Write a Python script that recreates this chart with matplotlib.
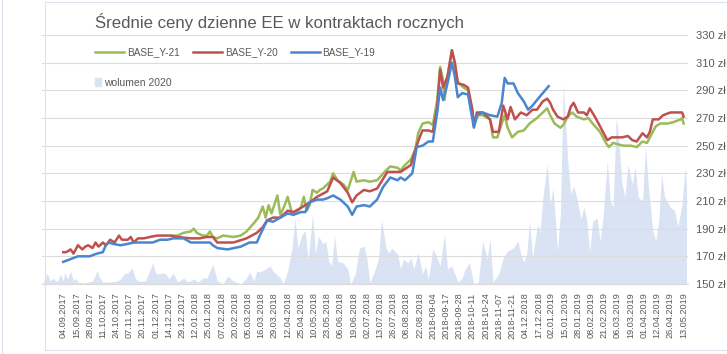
import matplotlib
matplotlib.use("Agg")
import matplotlib.pyplot as plt
from matplotlib.lines import Line2D
from matplotlib.patches import Patch

plt.rcParams['font.family'] = ['Liberation Sans', 'DejaVu Sans']

# numer dnia notowan (co 9 sesji podpis na osi)
date_labels = ['04.09.2017', '15.09.2017', '28.09.2017', '11.10.2017', '24.10.2017', '07.11.2017',
               '20.11.2017', '01.12.2017', '14.12.2017', '29.12.2017', '12.01.2018', '25.01.2018',
               '07.02.2018', '20.02.2018', '05.03.2018', '16.03.2018', '29.03.2018', '12.04.2018',
               '25.04.2018', '10.05.2018', '23.05.2018', '06.06.2018', '19.06.2018', '02.07.2018',
               '13.07.2018', '26.07.2018', '08.08.2018', '22.08.2018', '2018-09-04', '2018-09-17',
               '2018-09-28', '2018-10-11', '2018-10-24', '2018-11-07', '2018-11-21', '04.12.2018',
               '17.12.2018', '02.01.2019', '15.01.2019', '28.01.2019', '08.02.2019', '21.02.2019',
               '06.03.2019', '19.03.2019', '01.04.2019', '12.04.2019', '26.04.2019', '13.05.2019']

y21_day = [74, 78, 82, 87, 89, 91, 95, 98, 100, 102, 105, 109, 116, 121, 125, 130, 133, 136, 138, 140,
           142, 146, 148, 151, 153, 155, 156, 160, 162, 164, 166, 168, 170, 173, 175, 177, 182, 184, 187,
           191, 194, 198, 200, 205, 209, 214, 220, 223, 228, 230, 233, 237, 240, 242, 245, 249, 252, 255,
           257, 259, 260, 262, 265, 267, 269, 273, 276, 279, 280, 283, 286, 291, 293, 296, 299, 301, 303,
           306, 310, 314, 318, 323, 327, 330, 332, 335, 339, 341, 344, 347, 350, 355, 358, 361, 366, 370,
           372, 375, 378, 382, 387, 391, 395, 398, 400, 404, 407, 412, 416, 421, 422, 423]
y21_val = [185, 185, 187, 188, 190, 187, 185, 185, 188, 184, 183, 185, 184, 185, 188, 194, 198, 206, 198, 207,
           201, 214, 200, 207, 213, 205, 201, 203, 205, 213, 203, 207, 218, 216, 218, 219, 224, 230, 225,
           222, 218, 231, 224, 225, 224, 225, 232, 235, 234, 232, 236, 240, 247, 259, 266, 267, 265, 283,
           307, 297, 283, 300, 319, 310, 296, 292, 290, 274, 265, 272, 272, 269, 256, 256, 266, 272, 263,
           256, 260, 261, 266, 270, 274, 277, 272, 266, 263, 265, 271, 274, 271, 269, 270, 266, 260, 252,
           249, 252, 251, 250, 250, 249, 253, 252, 256, 264, 266, 266, 267, 269, 270, 266]

y20_day = [0, 2, 5, 7, 10, 13, 15, 17, 20, 22, 24, 27, 29, 32, 35, 38, 40, 44, 46, 48, 51, 55, 59, 64, 68,
           73, 78, 87, 93, 98, 102, 105, 109, 116, 125, 132, 136, 139, 143, 148, 153, 157, 162, 168, 173,
           180, 184, 189, 194, 197, 200, 205, 209, 214, 221, 225, 230, 237, 240, 243, 245, 249, 252, 255,
           257, 259, 262, 265, 267, 269, 273, 276, 279, 280, 282, 286, 291, 293, 297, 300, 303, 305, 308,
           312, 316, 320, 323, 327, 330, 332, 334, 337, 341, 344, 346, 348, 351, 355, 357, 359, 363, 366,
           368, 371, 374, 378, 381, 385, 388, 391, 395, 398, 400, 402, 406, 409, 414, 419, 422, 423]
y20_val = [173, 173, 175, 172, 178, 175, 177, 178, 176, 180, 177, 180, 178, 182, 180, 185, 182, 182, 184, 180,
           183, 183, 184, 185, 185, 185, 184, 183, 183, 184, 184, 180, 180, 180, 183, 187, 191, 196, 198,
           198, 203, 202, 205, 209, 213, 217, 227, 223, 216, 209, 214, 218, 217, 219, 231, 231, 231, 236,
           247, 256, 261, 261, 260, 278, 305, 292, 300, 319, 310, 295, 294, 292, 276, 264, 274, 274, 269,
           260, 260, 279, 269, 278, 269, 274, 272, 276, 276, 282, 284, 281, 276, 271, 269, 271, 278, 281,
           274, 274, 272, 277, 270, 264, 260, 254, 256, 256, 256, 257, 254, 253, 259, 256, 260, 269, 269,
           272, 274, 274, 274, 271]

y19_day = [0, 5, 10, 14, 18, 23, 27, 29, 31, 34, 39, 44, 48, 53, 57, 61, 66, 71, 75, 82, 87, 91, 95, 100,
           102, 105, 112, 121, 127, 132, 134, 139, 143, 148, 153, 157, 162, 165, 168, 173, 177, 180, 184,
           189, 194, 197, 200, 205, 209, 214, 218, 223, 228, 230, 233, 238, 241, 245, 249, 252, 255, 257,
           259, 262, 265, 267, 269, 272, 276, 279, 280, 282, 286, 291, 296, 299, 301, 303, 307, 310, 314,
           317, 320, 323, 327, 331]
y19_val = [166, 168, 170, 170, 170, 172, 173, 178, 180, 179, 178, 179, 180, 180, 180, 180, 182, 182, 183, 183,
           180, 180, 180, 180, 178, 176, 175, 177, 180, 180, 185, 196, 195, 198, 201, 200, 202, 202, 209,
           211, 211, 212, 214, 211, 206, 200, 206, 207, 206, 211, 220, 227, 225, 227, 225, 230, 249, 250,
           253, 253, 274, 292, 283, 295, 310, 300, 285, 288, 287, 269, 263, 272, 274, 272, 271, 281, 299,
           295, 295, 288, 282, 276, 279, 283, 288, 293]

vol_day = [-14, -11, -9, -7, -4, -2, 0, 1, 3, 5, 7, 8, 10, 14, 17, 20, 23, 25, 27, 32, 37, 39, 42, 44, 47,
           49, 51, 56, 58, 61, 63, 65, 67, 70, 72, 75, 78, 82, 85, 89, 92, 95, 98, 102, 105, 109, 112, 116,
           121, 125, 127, 130, 132, 134, 138, 141, 143, 148, 150, 153, 156, 158, 160, 163, 165, 167, 170,
           172, 174, 177, 179, 181, 183, 185, 187, 191, 194, 196, 199, 202, 205, 207, 209, 213, 215, 217,
           220, 222, 224, 228, 230, 232, 235, 237, 239, 242, 245, 247, 249, 252, 255, 257, 260, 262, 265,
           267, 269, 272, 274, 277, 280, 283, 286, 289, 291, 293, 297, 300, 303, 307, 310, 312, 314, 316,
           318, 320, 323, 324, 325, 327, 330, 332, 334, 337, 339, 341, 344, 346, 348, 350, 353, 355, 357,
           359, 361, 364, 366, 368, 371, 373, 375, 377, 378, 381, 383, 385, 388, 390, 392, 395, 397, 399,
           402, 404, 406, 408, 410, 414, 417, 419, 422, 424, 425]
vol_val = [0, 11, 3, 6, 2, 10, 3, 11, 5, 13, 3, 6, 2, 1, 2, 3, 13, 6, 2, 2, 3, 5, 11, 11, 16,
           6, 3, 3, 10, 21, 11, 10, 11, 10, 5, 11, 2, 6, 2, 5, 2, 6, 6, 20, 3, 0, 8, 3,
           0, 6, 12, 3, 13, 12, 15, 18, 13, 6, 0, 13, 36, 66, 36, 50, 53, 23, 70,
           30, 48, 40, 43, 23, 18, 48, 23, 21, 15, 0, 10, 36, 38, 26, 1, 16, 26, 65,
           36, 31, 36, 30, 15, 25, 21, 26, 15, 31, 10, 18, 5, 35, 26, 18, 50, 15, 18,
           10, 2, 6, 15, 21, 0, 2, 43, 25, 46, 2, 10, 26, 33, 36, 43, 30, 22, 30,
           63, 26, 56, 60, 50, 86, 120, 80, 96, 33, 70, 200, 123, 90, 98, 87, 65, 77, 63,
           32, 63, 66, 43, 66, 123, 83, 77, 165, 157, 100, 87, 120, 100, 117, 87, 83, 137, 97,
           53, 43, 63, 110, 87, 77, 73, 57, 80, 117, 97]

W, H = 727, 354
fig = plt.figure(figsize=(W / 100, H / 100), dpi=100)
ax = fig.add_axes([42 / W, (H - 284) / H, (688 - 42) / W, 249 / H])

ax.fill_between(vol_day, vol_val, color='#dae3f3', lw=0)
ax.set_ylim(0, 249)
ax.set_xlim(-14.5, 426)
ax.set_yticks([])
ax.set_xticks(range(0, 9 * len(date_labels), 9))
ax.set_xticklabels(date_labels, rotation=90, fontsize=6.6, color='#595959')
ax.tick_params(axis='x', length=0, pad=6)
for s in ['top', 'left', 'right']:
    ax.spines[s].set_visible(False)
ax.spines['bottom'].set_color('#d9d9d9')

ax2 = ax.twinx()
ax2.plot(y21_day, y21_val, color='#9bbb59', lw=1.8, solid_joinstyle='round')
ax2.plot(y20_day, y20_val, color='#c0504d', lw=1.8, solid_joinstyle='round')
ax2.plot(y19_day, y19_val, color='#4a85d0', lw=1.8, solid_joinstyle='round')
ax2.set_ylim(150, 330)
ax2.set_yticks(range(150, 331, 20))
ax2.set_yticklabels([f'{v} zł' for v in range(150, 331, 20)])
ax2.tick_params(axis='y', length=0, pad=6, labelsize=8, labelcolor='#595959')
ax2.grid(axis='y', color='#dcdcdc', lw=0.8)
for s in ax2.spines.values():
    s.set_visible(False)

fig.text(95 / W, 1 - 22 / H, 'Średnie ceny dzienne EE w kontraktach rocznych',
         fontsize=12.1, color='#595959', va='center', ha='left')

leg1 = fig.legend(handles=[Line2D([], [], color='#9bbb59', lw=1.8),
                           Line2D([], [], color='#c0504d', lw=1.8),
                           Line2D([], [], color='#4a85d0', lw=1.8)],
                  labels=['BASE_Y-21', 'BASE_Y-20', 'BASE_Y-19'],
                  loc='center left', bbox_to_anchor=(95 / W, 1 - 52 / H), ncol=3, frameon=False,
                  fontsize=7.2, handlelength=2.9, handletextpad=0.3, columnspacing=1.3,
                  borderpad=0, borderaxespad=0, labelcolor='#595959')
leg2 = fig.legend(handles=[Patch(color='#dae3f3')], labels=['wolumen 2020'],
                  loc='center left', bbox_to_anchor=(95 / W, 1 - 83 / H), frameon=False,
                  fontsize=7.5, handlelength=0.6, handleheight=0.8, handletextpad=0.3,
                  borderpad=0, borderaxespad=0, labelcolor='#595959')

# ramka obszaru wykresu
frame = '#dde3ec'
fig.add_artist(Line2D([45 / W, 45 / W], [4 / H, 1 - 2 / H], color=frame, lw=0.8))
fig.add_artist(Line2D([45 / W, 1], [1 - 2 / H, 1 - 2 / H], color=frame, lw=0.8))
fig.add_artist(Line2D([45 / W, 1], [4 / H, 4 / H], color=frame, lw=0.8))
fig.add_artist(Line2D([2 / W, 2 / W], [0, 1], color=frame, lw=0.8))

fig.savefig('out.png', dpi=100)
